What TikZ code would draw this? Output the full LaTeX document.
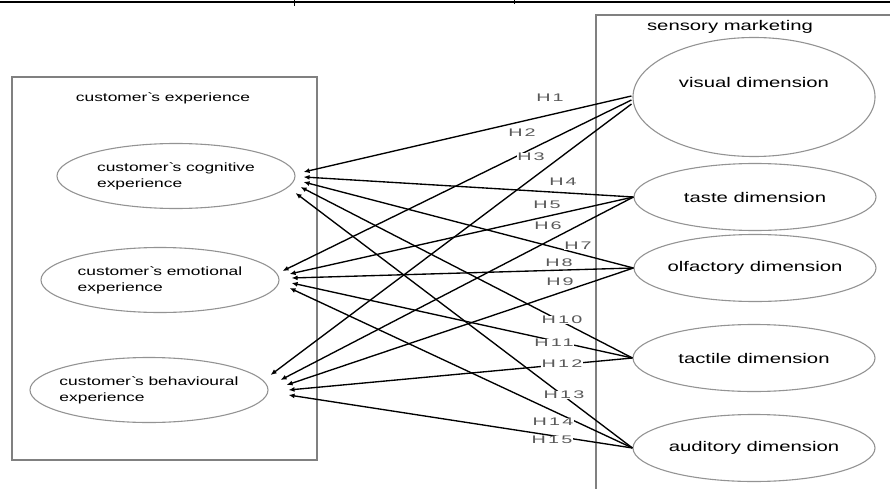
\documentclass[tikz,border=0pt]{standalone}
\usepackage{fontspec}
\setmainfont{Liberation Sans}[FakeStretch=1.45]
\newfontfamily\hypfont{Liberation Sans}[FakeStretch=1.8,LetterSpace=20]
\usetikzlibrary{shapes.geometric,arrows.meta}
\begin{document}
\begin{tikzpicture}[x=1pt,y=-1pt,
    dim/.style={ellipse,draw=gray!85,line width=1.1pt,inner ysep=0pt},
    expe/.style={dim,minimum width=238pt,minimum height=65pt,inner xsep=-20pt,
      align=left,font=\fontsize{12}{16}\selectfont},
    sens/.style={dim,minimum width=242pt,minimum height=67pt,inner xsep=-10pt,
      font=\fontsize{14}{17}\selectfont},
    hyp/.style={font=\hypfont\fontsize{11}{12}\selectfont,text=gray!70!black,
      fill=white,inner sep=0.5pt},
    box/.style={draw=gray,line width=2pt}]
  \useasboundingbox (0,0) rectangle (890,489);
  % page rule
  \draw[line width=1.2pt] (0,2) -- (890,2);
  \draw (294,0) -- (294,6) (514,0) -- (514,4);
  % frames
  \draw[box] (12,77) rectangle (317,460);
  \draw[box] (596,489) -- (596,15) -- (890,15);
  \node (cx) at (163,98) {\fontsize{12}{14}\selectfont customer\textasciigrave s experience};
  \node (sm) at (730,27) {\fontsize{14}{16}\selectfont sensory marketing};
  % experience
  \node[expe] (cog) at (176,176) {customer\textasciigrave s cognitive\\experience};
  \node[expe] (emo) at (160,280) {customer\textasciigrave s emotional\\experience};
  \node[expe] (beh) at (149,390) {customer\textasciigrave s behavioural\\experience};
  % sensory dimensions
  \node[sens,minimum height=119pt,text depth=30pt] (vis) at (754,97) {visual dimension};
  \node[sens] (tas) at (755,197) {taste dimension};
  \node[sens] (olf) at (755,268) {olfactory dimension};
  \node[sens] (tac) at (754,358) {tactile dimension};
  \node[sens] (aud) at (754,448) {auditory dimension};
  \begin{scope}[{Latex[length=6pt,width=5pt]}-,line width=1.35pt]
    \draw ([shift={(8,-4)}]cog.east) -- ([shift={(-1,-1)}]vis.west);
    \draw ([shift={(3,-9)}]emo.east) -- ([shift={(-1,3)}]vis.west);
    \draw ([shift={(2,-15)}]beh.east) -- ([shift={(-1,7)}]vis.west);
    \draw ([shift={(8,1)}]cog.east) -- (tas.west);
    \draw ([shift={(10,-6)}]emo.east) -- (tas.west);
    \draw ([shift={(12,-10)}]beh.east) -- (tas.west);
    \draw ([shift={(8,6)}]cog.east) -- (olf.west);
    \draw ([shift={(12,-2)}]emo.east) -- (olf.west);
    \draw ([shift={(18,-5)}]beh.east) -- (olf.west);
    \draw ([shift={(5,11)}]cog.east) -- (tac.west);
    \draw ([shift={(12,3)}]emo.east) -- (tac.west);
    \draw ([shift={(20,0)}]beh.east) -- (tac.west);
    \draw ([shift={(0,17)}]cog.east) -- (aud.west);
    \draw ([shift={(10,8)}]emo.east) -- (aud.west);
    \draw ([shift={(20,5)}]beh.east) -- (aud.west);
  \end{scope}
  % hypotheses
  \node[hyp] (h1) at (550,98) {H1};
  \node[hyp] (h2) at (522,133) {H2};
  \node[hyp] (h3) at (531,157) {H3};
  \node[hyp] (h4) at (563,182) {H4};
  \node[hyp] (h5) at (547,205) {H5};
  \node[hyp] (h6) at (548,226) {H6};
  \node[hyp] (h7) at (578,246) {H7};
  \node[hyp] (h8) at (559,263) {H8};
  \node[hyp] (h9) at (560,282) {H9};
  \node[hyp] (h10) at (562,320) {H10};
  \node[hyp] (h11) at (554,343) {H11};
  \node[hyp] (h12) at (562,364) {H12};
  \node[hyp] (h13) at (564,395) {H13};
  \node[hyp] (h14) at (553,422) {H14};
  \node[hyp] (h15) at (552,440) {H15};
\end{tikzpicture}
\end{document}
